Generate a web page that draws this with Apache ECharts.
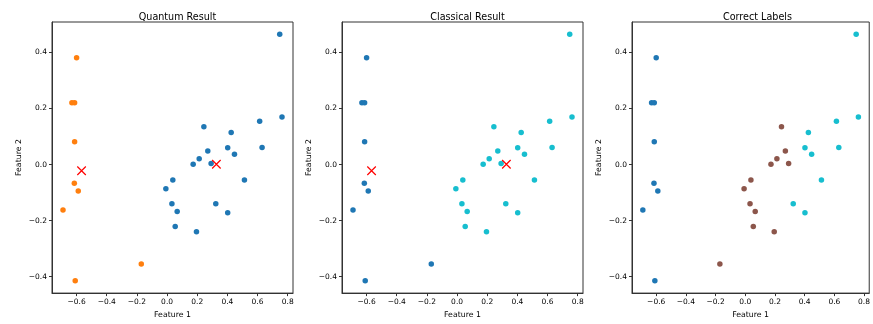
<!DOCTYPE html>
<html>
<head>
<meta charset="utf-8">
<script src="https://cdn.jsdelivr.net/npm/echarts@6.0.0/dist/echarts.min.js"></script>
<style>
  html, body { margin: 0; padding: 0; background: #fff; }
  #main { width: 873px; height: 324px; }
</style>
</head>
<body>
<div id="main"></div>
<script>
// points (feature 1, feature 2)
var featX = [-0.600, -0.631, -0.613, -0.613, -0.615, -0.589, -0.690, -0.171, -0.609,
             0.747, 0.762, 0.614, 0.630, 0.244, 0.425, 0.402, 0.447, 0.270, 0.213,
             0.173, 0.292, 0.513, 0.038, -0.008, 0.032, 0.067, 0.054, 0.195, 0.323, 0.402];
var featY = [0.381, 0.221, 0.221, 0.081, -0.067, -0.094, -0.162, -0.355, -0.415,
             0.465, 0.170, 0.155, 0.061, 0.135, 0.114, 0.060, 0.037, 0.048, 0.021,
             0.001, 0.004, -0.055, -0.055, -0.086, -0.140, -0.168, -0.221, -0.240, -0.140, -0.172];

// cluster labels per panel
var quantumLabels   = [1,1,1,1,1,1,1,1,1, 0,0,0,0,0,0,0,0,0,0,0,0,0,0,0,0,0,0,0,0,0];
var classicalLabels = [0,0,0,0,0,0,0,0,0, 1,1,1,1,1,1,1,1,1,1,1,1,1,1,1,1,1,1,1,1,1];
var trueLabels      = [0,0,0,0,0,0,0,1,0, 2,2,2,2,1,2,2,2,1,1,1,1,2,1,1,1,1,1,1,2,2];

// centroids (same in both result panels)
var centroidX = [-0.567, 0.327];
var centroidY = [-0.022, 0.001];

var titles = ['Quantum Result', 'Classical Result', 'Correct Labels'];
var xTicks = [-0.6, -0.4, -0.2, 0.0, 0.2, 0.4, 0.6, 0.8];
var yTicks = [-0.4, -0.2, 0.0, 0.2, 0.4];

var quantumColors = ['#1f77b4', '#ff7f0e'];
var classicalColors = ['#1f77b4', '#17becf'];
var trueColors = ['#1f77b4', '#8c564b', '#17becf'];

var font = 'DejaVu Sans';
var panelLeft = [52, 342, 632];
var panelW = 241, panelH = 272, panelTop = 22;

function fmt(v) {
  var s = Math.abs(v).toFixed(1);
  return v < -1e-9 ? '\u2212' + s : s;
}

function pointsFor(labels, k) {
  var out = [];
  for (var i = 0; i < featX.length; i++) {
    if (labels[i] === k) out.push([featX[i], featY[i]]);
  }
  return out;
}

var grids = [], xAxes = [], yAxes = [], series = [], titleOpts = [];

for (var p = 0; p < 3; p++) {
  grids.push({
    left: panelLeft[p], top: panelTop, width: panelW, height: panelH,
    show: true, borderColor: '#333', borderWidth: 1, backgroundColor: 'transparent'
  });
  titleOpts.push({
    text: titles[p],
    left: panelLeft[p] + panelW / 2, top: 7, textAlign: 'center',
    textStyle: { fontFamily: font, fontSize: 9.6, fontWeight: 'normal', color: '#000' }
  });
  xAxes.push({
    gridIndex: p, type: 'value', min: -0.763, max: 0.835, position: 'bottom',
    name: 'Feature 1', nameLocation: 'middle', nameGap: 16,
    nameTextStyle: { fontFamily: font, fontSize: 7.8, color: '#000' },
    splitLine: { show: false },
    axisLine: { show: true, onZero: false, lineStyle: { color: '#333', width: 1 } },
    axisTick: { show: true, length: 3, customValues: xTicks, lineStyle: { color: '#333' } },
    axisLabel: { customValues: xTicks, formatter: fmt, margin: 5,
                 fontFamily: font, fontSize: 7.5, color: '#000' }
  });
  yAxes.push({
    gridIndex: p, type: 'value', min: -0.459, max: 0.509, position: 'left',
    name: 'Feature 2', nameLocation: 'middle', nameGap: 29,
    nameTextStyle: { fontFamily: font, fontSize: 7.8, color: '#000' },
    splitLine: { show: false },
    axisLine: { show: true, onZero: false, lineStyle: { color: '#333', width: 1 } },
    axisTick: { show: true, length: 3, customValues: yTicks, lineStyle: { color: '#333' } },
    axisLabel: { customValues: yTicks, formatter: fmt, margin: 5,
                 fontFamily: font, fontSize: 7.5, color: '#000' }
  });
}

function addScatter(panel, labels, colors) {
  for (var k = 0; k < colors.length; k++) {
    series.push({
      type: 'scatter', xAxisIndex: panel, yAxisIndex: panel,
      symbolSize: 5.5, itemStyle: { color: colors[k], opacity: 1 },
      data: pointsFor(labels, k), silent: true
    });
  }
}

function addCentroids(panel) {
  var pts = [];
  for (var i = 0; i < centroidX.length; i++) pts.push([centroidX[i], centroidY[i]]);
  series.push({
    type: 'scatter', xAxisIndex: panel, yAxisIndex: panel, z: 5,
    symbol: 'path://M0,0L10,10M10,0L0,10', symbolSize: 8.5,
    itemStyle: { color: 'none', borderColor: '#ff0000', borderWidth: 1.2, opacity: 1 },
    data: pts, silent: true
  });
}

addScatter(0, quantumLabels, quantumColors);
addCentroids(0);
addScatter(1, classicalLabels, classicalColors);
addCentroids(1);
addScatter(2, trueLabels, trueColors);

var myChart = echarts.init(document.getElementById('main'));
var option = {
  animation: false,
  backgroundColor: '#fff',
  title: titleOpts,
  grid: grids,
  xAxis: xAxes,
  yAxis: yAxes,
  series: series
};
myChart.setOption(option);
</script>
</body>
</html>
